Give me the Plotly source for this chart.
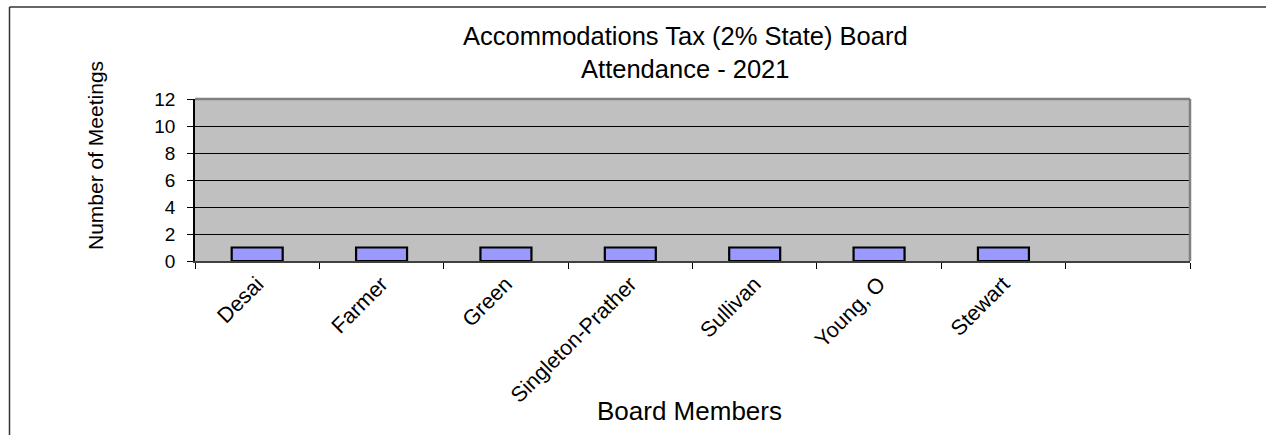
import plotly.graph_objects as go

members = ["Desai", "Farmer", "Green", "Singleton-Prather", "Sullivan", "Young, O", "Stewart"]
meetings = [1, 1, 1, 1, 1, 1, 1]
all_categories = members + [" "]
y_ticks = [0, 2, 4, 6, 8, 10, 12]
title_text = "Accommodations Tax (2% State) Board<br>Attendance - 2021"

W, H = 1266, 435
L, R, T, B = 195, 1190, 99, 261
pw, ph = R - L, B - T

def px_x(x):
    return (x - L) / pw

def px_y(y):
    return (B - y) / ph

FONT = "Liberation Sans, Arial, sans-serif"

fig = go.Figure(go.Bar(
    x=members, y=meetings, width=0.41,
    marker=dict(color="#9999FF", line=dict(color="black", width=2.2)),
))

fig.update_layout(
    width=W, height=H,
    margin=dict(l=L, r=W - R, t=T, b=H - B, pad=0),
    paper_bgcolor="white", plot_bgcolor="#C0C0C0",
    showlegend=False,
    font=dict(family=FONT, color="black"),
    xaxis=dict(type="category", categoryorder="array", categoryarray=all_categories,
               range=[-0.5, 7.5], tickson="boundaries", ticks="outside", ticklen=6,
               tickcolor="black", tickwidth=1, tickangle=-45,
               tickfont=dict(size=21.5, family=FONT, color="black"),
               showline=True, linecolor="#404040", linewidth=2, showgrid=False,
               zeroline=False, fixedrange=True),
    yaxis=dict(range=[0, 12], tickvals=y_ticks, ticks="outside", ticklen=6,
               tickcolor="black", tickwidth=1, ticklabelstandoff=8,
               tickfont=dict(size=19, family=FONT, color="black"),
               showline=True, linecolor="black", linewidth=1.5,
               showgrid=True, gridcolor="black", gridwidth=1,
               zeroline=False, fixedrange=True),
    annotations=[
        dict(text=title_text, x=px_x(685), y=px_y(52), xref="paper", yref="paper",
             showarrow=False, xanchor="center", yanchor="middle", align="center",
             font=dict(size=25.5, family=FONT, color="black")),
        dict(text="Number of Meetings", x=px_x(95), y=px_y(156), xref="paper", yref="paper",
             textangle=-90, showarrow=False, xanchor="center", yanchor="middle",
             font=dict(size=21, family=FONT, color="black")),
        dict(text="Board Members", x=px_x(689), y=px_y(411), xref="paper", yref="paper",
             showarrow=False, xanchor="center", yanchor="middle",
             font=dict(size=26, family=FONT, color="black")),
    ],
    shapes=[
        # plot area gray frame (top and right)
        dict(type="line", xref="paper", yref="paper", x0=0, x1=1, y0=1, y1=1,
             line=dict(color="#808080", width=2.5)),
        dict(type="line", xref="paper", yref="paper", x0=1, x1=1, y0=0, y1=1,
             line=dict(color="#808080", width=2.5)),
        # outer chart border (top and left)
        dict(type="line", xref="paper", yref="paper", x0=px_x(9.5), x1=px_x(1270),
             y0=px_y(7), y1=px_y(7), line=dict(color="#333333", width=1.5)),
        dict(type="line", xref="paper", yref="paper", x0=px_x(9.5), x1=px_x(9.5),
             y0=px_y(7), y1=px_y(440), line=dict(color="#333333", width=1.5)),
    ],
)

fig.write_html("out.html", config={"displayModeBar": False},
               post_script="document.body.style.margin='0';")
